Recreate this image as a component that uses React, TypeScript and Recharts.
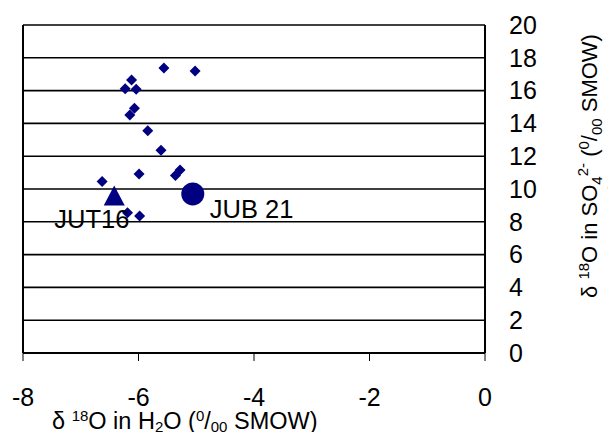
import React from 'react';
import { ScatterChart, Scatter, XAxis, YAxis, CartesianGrid, ReferenceLine } from 'recharts';

const xTicks = [-8, -6, -4, -2, 0];
const yTicks = [0, 2, 4, 6, 8, 10, 12, 14, 16, 18, 20];

// samples (δ18O H2O vs δ18O SO4)
const sampleX = [-5.56, -5.02, -6.12, -6.23, -6.04, -6.07, -6.15, -5.84, -5.61, -5.28, -5.36, -5.99, -6.63, -6.19, -5.98];
const sampleY = [17.38, 17.2, 16.65, 16.12, 16.08, 14.92, 14.51, 13.55, 12.36, 11.16, 10.83, 10.91, 10.45, 8.55, 8.35];

const jut16 = [{ x: -6.42, y: 9.6 }];
const jub21 = [{ x: -5.06, y: 9.7 }];

const samples = sampleX.map((x, i) => ({ x, y: sampleY[i] }));

const NAVY = '#000080';
const FONT = '"Liberation Sans", Arial, sans-serif';

const Diamond = (props: any) => {
  const { cx, cy } = props;
  const r = 5.5;
  return <polygon points={`${cx},${cy - r} ${cx + r},${cy} ${cx},${cy + r} ${cx - r},${cy}`} fill={NAVY} />;
};

const Triangle = (props: any) => {
  const { cx, cy } = props;
  return (
    <g>
      <polygon points={`${cx},${cy - 10} ${cx + 10.5},${cy + 10} ${cx - 10.5},${cy + 10}`} fill={NAVY} />
      <text x={cx - 60} y={cy + 32} fontSize={25.5} fontFamily={FONT} fill="#000">JUT16</text>
    </g>
  );
};

const Dot = (props: any) => {
  const { cx, cy } = props;
  return (
    <g>
      <circle cx={cx} cy={cy} r={11.5} fill={NAVY} />
      <text x={cx + 17} y={cy + 24} fontSize={25.5} fontFamily={FONT} fill="#000">JUB 21</text>
    </g>
  );
};

const YTitle = ({ x, y }: { x: number; y: number }) => (
  <text x={x} y={y} transform={`rotate(-90 ${x} ${y})`} textAnchor="middle" fontSize={22} fontFamily={FONT} fill="#000">
    δ <tspan dy={-8} fontSize={15}>18</tspan>
    <tspan dy={8}>O in SO</tspan>
    <tspan dy={5} fontSize={15}>4</tspan>
    <tspan dy={-14} fontSize={15}>2-</tspan>
    <tspan dy={9}> (</tspan>
    <tspan dy={-8} fontSize={15}>0</tspan>
    <tspan dy={8}>/</tspan>
    <tspan dy={5} fontSize={15}>00</tspan>
    <tspan dy={-5}> SMOW)</tspan>
  </text>
);

export default function App() {
  return (
    <div style={{ position: 'absolute', left: 0, top: 0, width: 608, height: 432, background: '#fff' }}>
      <ScatterChart width={608} height={432} margin={{ top: 25, right: 23, bottom: 29, left: 23 }}>
        <CartesianGrid horizontal vertical={false} stroke="#000" strokeWidth={1.6} />
        <XAxis
          type="number"
          dataKey="x"
          domain={[-8, 0]}
          ticks={xTicks}
          interval={0}
          height={50}
          tickSize={8}
          tickMargin={27}
          axisLine={{ stroke: '#000', strokeWidth: 2 }}
          tickLine={{ stroke: '#000', strokeWidth: 1 }}
          tick={{ fill: '#000', fontSize: 25, fontFamily: FONT }}
        />
        <YAxis
          type="number"
          dataKey="y"
          orientation="right"
          domain={[0, 20]}
          ticks={yTicks}
          interval={0}
          width={100}
          tickSize={0}
          tickMargin={24}
          axisLine={{ stroke: '#000', strokeWidth: 2 }}
          tickLine={false}
          tick={{ fill: '#000', fontSize: 25, fontFamily: FONT }}
        />
        <ReferenceLine x={-8} stroke="#000" strokeWidth={2} />
        <Scatter data={samples} fill={NAVY} shape={Diamond} isAnimationActive={false} />
        <Scatter data={jut16} fill={NAVY} shape={Triangle} isAnimationActive={false} />
        <Scatter data={jub21} fill={NAVY} shape={Dot} isAnimationActive={false} />
      </ScatterChart>
      <svg width={608} height={432} style={{ position: 'absolute', left: 0, top: 0, pointerEvents: 'none' }}>
        <text x={52} y={429} fontSize={23.5} fontFamily={FONT} fill="#000">
          δ <tspan dy={-8} fontSize={15}>18</tspan>
          <tspan dy={8}>O in H</tspan>
          <tspan dy={3} fontSize={15}>2</tspan>
          <tspan dy={-3}>O (</tspan>
          <tspan dy={-8} fontSize={15}>0</tspan>
          <tspan dy={8}>/</tspan>
          <tspan dy={3} fontSize={15}>00</tspan>
          <tspan dy={-3}> SMOW)</tspan>
        </text>
        <YTitle x={597} y={166} />
        <YTitle x={627} y={182} />
      </svg>
    </div>
  );
}
